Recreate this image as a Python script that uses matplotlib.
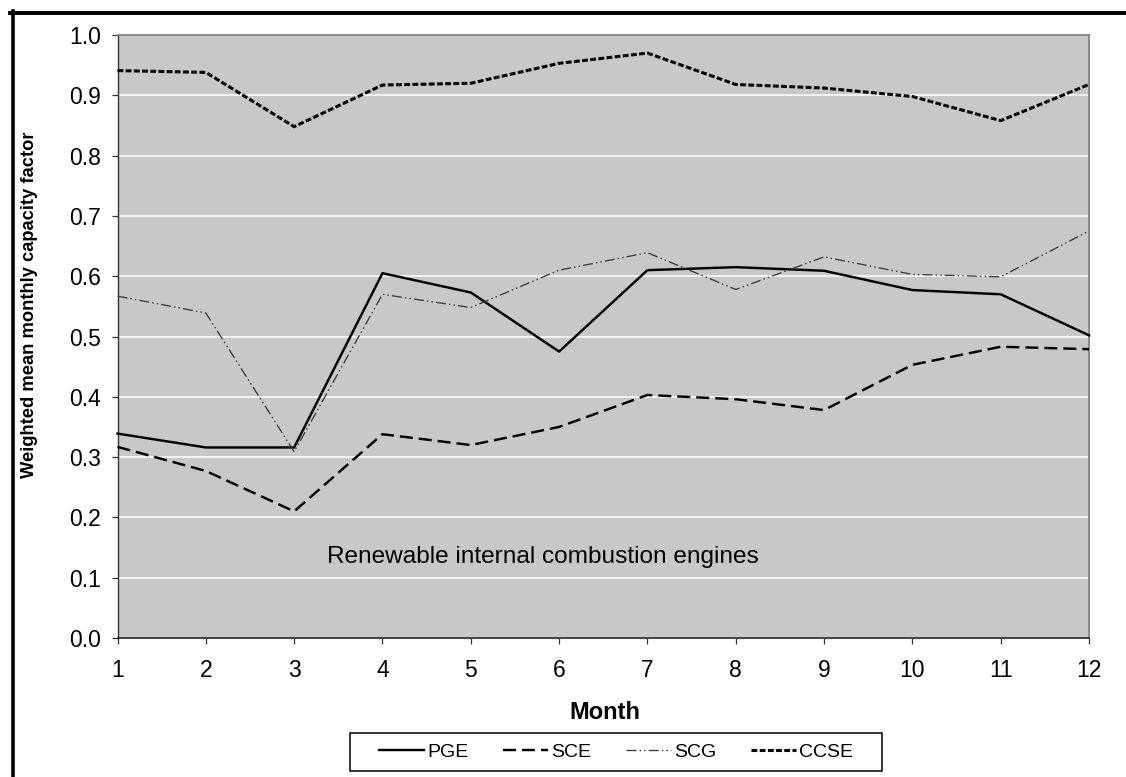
import matplotlib
matplotlib.use('Agg')
import matplotlib.pyplot as plt
from matplotlib.lines import Line2D
from matplotlib.patches import Rectangle

plt.rcParams['font.family'] = ['Liberation Sans', 'DejaVu Sans']
plt.rcParams['lines.scale_dashes'] = False

months = list(range(1, 13))
pge = [0.339, 0.316, 0.316, 0.605, 0.573, 0.475, 0.610, 0.615, 0.609, 0.577, 0.570, 0.502]
sce = [0.317, 0.277, 0.210, 0.338, 0.320, 0.350, 0.403, 0.396, 0.378, 0.453, 0.483, 0.479]
scg = [0.567, 0.539, 0.309, 0.570, 0.548, 0.610, 0.639, 0.578, 0.632, 0.603, 0.599, 0.675]
ccse = [0.941, 0.938, 0.848, 0.917, 0.920, 0.953, 0.970, 0.918, 0.912, 0.898, 0.858, 0.918]
series_names = ['PGE', 'SCE', 'SCG', 'CCSE']
yticks = [0.0, 0.1, 0.2, 0.3, 0.4, 0.5, 0.6, 0.7, 0.8, 0.9, 1.0]
ytick_labels = ['0.0', '0.1', '0.2', '0.3', '0.4', '0.5', '0.6', '0.7', '0.8', '0.9', '1.0']
annotation = 'Renewable internal combustion engines'
xlabel = 'Month'
ylabel = 'Weighted mean monthly capacity factor'

W, H = 1126, 777
fig = plt.figure(figsize=(W / 100, H / 100), dpi=100)
ax = fig.add_axes([117.5 / W, 1 - 638 / H, (1089 - 117.5) / W, (638 - 35) / H])
ax.set_facecolor('#C8C8C8')
ax.set_xlim(1, 12)
ax.set_ylim(0, 1)
ax.set_xticks(months)
ax.set_xticklabels([str(m) for m in months])
ax.set_yticks(yticks)
ax.set_yticklabels(ytick_labels)
ax.yaxis.grid(True, color='white', lw=1.1)
ax.set_axisbelow(True)

ax.spines['left'].set_color('#333333')
ax.spines['left'].set_linewidth(1.0)
ax.spines['bottom'].set_color('#222222')
ax.spines['bottom'].set_linewidth(1.2)
for s in ['top', 'right']:
    ax.spines[s].set_color('#8a8a8a')
    ax.spines[s].set_linewidth(1.4)

ax.tick_params(axis='both', direction='out', length=4.5, width=0.9, color='#333333',
               labelsize=16.5)
ax.tick_params(axis='y', pad=7.5)
ax.tick_params(axis='x', pad=10.5)

styles = {
    'PGE': dict(color='black', lw=1.75, linestyle='-'),
    'SCE': dict(color='black', lw=1.75, linestyle=(0, (9.4, 4.3))),
    'SCG': dict(color='#3a3a3a', lw=0.95, linestyle=(0, (7.2, 2.2, 1.1, 2.2, 1.1, 2.2))),
    'CCSE': dict(color='black', lw=2.2, linestyle=(0, (4.2, 1.7))),
}
data = {'PGE': pge, 'SCE': sce, 'SCG': scg, 'CCSE': ccse}
handles = []
for name in series_names:
    ln, = ax.plot(months, data[name], dash_capstyle='butt', clip_on=False, zorder=3,
                  **styles[name])
    handles.append(ln)

ax.text(3.369, 0.124, annotation, fontsize=17.6, ha='left', va='baseline', color='black')

leg = ax.legend(handles, series_names, loc='center',
                bbox_to_anchor=(616 / W, 1 - 751.7 / H), bbox_transform=fig.transFigure,
                ncol=4, frameon=False, fontsize=14, handlelength=2.3,
                handletextpad=0.15, columnspacing=1.8)
fig.patches.append(Rectangle((350 / W, 1 - 770.7 / H), (882 - 350) / W, 38 / H,
                             transform=fig.transFigure, fill=False, ec='black', lw=1.1))

fig.text(605 / W, 1 - 719 / H, xlabel, fontsize=17, fontweight='bold', ha='center',
         va='baseline')
fig.text(30 / W, 1 - 305 / H, ylabel, fontsize=13.2, fontweight='bold', ha='center',
         va='center', rotation=90)

fig.add_artist(Line2D([10 / W, 1], [1 - 13 / H, 1 - 13 / H], transform=fig.transFigure,
                      color='black', lw=2.8))
fig.add_artist(Line2D([13.3 / W, 13.3 / W], [0, 1 - 11 / H], transform=fig.transFigure,
                      color='black', lw=2.6))

fig.savefig('out.png', dpi=100)
